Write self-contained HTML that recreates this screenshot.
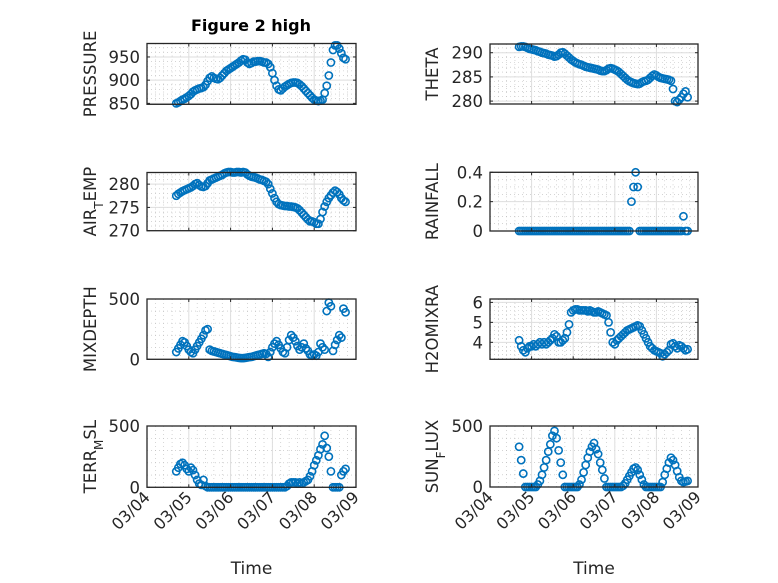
<!DOCTYPE html>
<html><head><meta charset="utf-8"><style>
html,body{margin:0;padding:0;background:#fff;}
svg{display:block;font-family:"DejaVu Sans","Liberation Sans",sans-serif;}
</style></head><body>
<svg id="fig" width="778" height="583" viewBox="0 0 778 583"></svg>
<script>
const times = Array.from({length:82},(_,i)=>+(0.7+0.05*i).toFixed(2));
const dayLabels = ["03/04","03/05","03/06","03/07","03/08","03/09"];
const pressureVals = [850,852,855,858,860,863,866,870,875,878,880,882,883,885,890,898,905,908,905,903,902,905,910,915,920,923,926,929,932,935,938,942,945,944,938,935,937,940,940,941,941,940,938,938,935,928,915,900,888,880,878,882,886,889,892,894,895,895,894,891,887,882,877,872,867,862,858,856,855,856,858,872,888,910,938,965,975,975,968,958,948,945];
const thetaVals = [291.2,291.3,291.3,291.2,291.0,290.8,290.7,290.6,290.5,290.3,290.2,290.0,289.9,289.8,289.6,289.5,289.4,289.2,289.3,289.6,290.0,290.1,289.8,289.4,289.0,288.6,288.3,288.0,287.8,287.6,287.5,287.3,287.1,287.0,286.9,286.8,286.7,286.6,286.5,286.3,286.2,286.2,286.4,286.7,286.8,286.7,286.5,286.3,286.0,285.6,285.2,284.8,284.4,284.1,283.9,283.7,283.6,283.5,283.6,283.9,284.1,284.2,284.4,284.8,285.2,285.5,285.3,285.0,284.8,284.7,284.6,284.5,284.4,284.2,282.5,280.0,279.8,280.3,280.8,281.5,282.0,280.8];
const airTempVals = [277.5,277.9,278.2,278.5,278.7,278.9,279.1,279.3,279.6,280.0,280.2,279.8,279.5,279.4,279.6,280.2,280.8,281.0,281.2,281.4,281.6,281.8,282.0,282.3,282.5,282.6,282.6,282.5,282.5,282.6,282.6,282.5,282.6,282.5,282.1,281.8,281.6,281.5,281.4,281.2,281.0,280.9,280.7,280.5,280.0,279.0,278.0,277.0,276.2,275.7,275.5,275.4,275.3,275.3,275.2,275.2,275.1,275.0,274.8,274.4,273.9,273.4,272.9,272.4,272.0,272.0,271.8,271.5,271.5,272.5,274.0,275.2,276.2,277.0,277.6,278.2,278.6,278.3,277.8,277.0,276.5,276.2];
const rainfallVals = [0,0,0,0,0,0,0,0,0,0,0,0,0,0,0,0,0,0,0,0,0,0,0,0,0,0,0,0,0,0,0,0,0,0,0,0,0,0,0,0,0,0,0,0,0,0,0,0,0,0,0,0,0,0,0.2,0.3,0.4,0.3,0,0,0,0,0,0,0,0,0,0,0,0,0,0,0,0,0,0,0,0,0,0.1,0,0];
const mixDepthVals = [60,90,120,150,140,110,80,60,50,80,110,140,170,200,240,250,80,70,65,60,55,50,45,40,35,30,25,20,18,15,12,10,10,12,15,18,20,25,30,35,40,45,50,45,20,60,100,130,150,120,90,60,50,100,160,200,180,150,110,80,100,130,90,70,40,30,40,30,60,130,100,80,400,470,440,70,120,160,200,180,420,390];
const h2oVals = [4.1,3.8,3.6,3.5,3.7,3.8,3.8,3.9,3.8,3.9,4.0,3.9,4.0,3.9,4.0,4.1,4.2,4.4,4.3,4.0,4.0,4.1,4.2,4.5,4.9,5.5,5.6,5.65,5.65,5.6,5.6,5.6,5.6,5.55,5.6,5.55,5.5,5.5,5.55,5.5,5.45,5.4,5.35,5.0,4.5,4.0,3.9,4.1,4.2,4.3,4.4,4.5,4.6,4.65,4.7,4.75,4.8,4.85,4.8,4.6,4.4,4.2,4.0,3.8,3.7,3.6,3.55,3.5,3.45,3.3,3.4,3.5,3.6,3.9,3.95,3.8,3.7,3.85,3.8,3.7,3.6,3.65];
const terrVals = [130,160,190,200,180,150,130,160,140,100,60,30,20,60,10,0,0,0,0,0,0,0,0,0,0,0,0,0,0,0,0,0,0,0,0,0,0,0,0,0,0,0,0,0,0,0,0,0,0,0,0,0,0,10,30,40,40,40,30,40,30,40,50,60,90,130,180,220,260,310,350,420,320,250,130,0,0,0,0,100,130,150];
const sunVals = [330,220,110,0,0,0,0,0,0,20,50,100,160,220,290,350,420,460,400,300,200,100,0,0,0,0,0,0,0,20,60,120,180,240,290,330,360,310,270,200,140,70,0,0,0,0,0,0,0,0,10,30,60,90,120,150,160,140,100,60,20,0,0,0,0,0,0,0,0,40,100,150,200,240,220,180,130,80,50,40,45,50];

const NS="http://www.w3.org/2000/svg";
const svg=document.getElementById('fig');
function mk(tag,attrs,parent){const e=document.createElementNS(NS,tag);for(const k in attrs)e.setAttribute(k,attrs[k]);(parent||svg).appendChild(e);return e;}

const panels=[
 {id:'pressure',lab:['PRESSURE'],vals:pressureVals,x0:147,x1:356,y0:43.5,y1:104.3,ymin:848,ymax:979,ticks:[850,900,950],minor:10,col:0},
 {id:'theta',lab:['THETA'],vals:thetaVals,x0:490,x1:698,y0:44,y1:104,ymin:279.4,ymax:291.8,ticks:[280,285,290],minor:1,col:1},
 {id:'air-temp',lab:['AIR','T','EMP'],vals:airTempVals,x0:147,x1:356,y0:172.5,y1:230.7,ymin:270,ymax:282.5,ticks:[270,275,280],minor:1,col:0},
 {id:'rainfall',lab:['RAINFALL'],vals:rainfallVals,x0:490,x1:698,y0:172.3,y1:231,ymin:0,ymax:0.4,ticks:[0,0.2,0.4],minor:0.05,col:1},
 {id:'mixdepth',lab:['MIXDEPTH'],vals:mixDepthVals,x0:147,x1:356,y0:299,y1:359.3,ymin:0,ymax:500,ticks:[0,500],minor:100,col:0},
 {id:'h2omixra',lab:['H2OMIXRA'],vals:h2oVals,x0:490,x1:698,y0:299,y1:359.3,ymin:3.15,ymax:6.17,ticks:[4,5,6],minor:0.2,col:1},
 {id:'terr-msl',lab:['TERR','M','SL'],vals:terrVals,x0:147,x1:356,y0:426,y1:487.3,ymin:0,ymax:500,ticks:[0,500],minor:100,col:0,bottom:true},
 {id:'sun-flux',lab:['SUN','F','LUX'],vals:sunVals,x0:490,x1:698,y0:426,y1:487,ymin:0,ymax:500,ticks:[0,500],minor:100,col:1,bottom:true}
];

panels.forEach(p=>{
 const g=mk('g',{});
 
 
 const xs=t=>p.x0+(p.x1-p.x0)*t/5;
 const ys=v=>p.y1-(p.y1-p.y0)*(v-p.ymin)/(p.ymax-p.ymin);
 const mstart=Math.ceil(p.ymin/p.minor-1e-6);
 for(let k=mstart;k*p.minor<=p.ymax+1e-9;k++){
  const v=k*p.minor; const y=ys(v);
  mk('line',{x1:p.x0,x2:p.x1,y1:y,y2:y,stroke:'#bbb','stroke-width':0.6,'stroke-dasharray':'1 3'},g);
 }
 for(let t=0.2;t<5;t+=0.2){const x=xs(t);mk('line',{x1:x,x2:x,y1:p.y0,y2:p.y1,stroke:'#bbb','stroke-width':0.6,'stroke-dasharray':'1 3'},g);}
 p.ticks.forEach(v=>{const y=ys(v);mk('line',{x1:p.x0,x2:p.x1,y1:y,y2:y,stroke:'#dedede','stroke-width':1},g);});
 for(let d=1;d<5;d++){const x=xs(d);mk('line',{x1:x,x2:x,y1:p.y0,y2:p.y1,stroke:'#dedede','stroke-width':1},g);}
 const sg=mk('g',{},g);
 
 
 p.vals.forEach((v,i)=>{
  const c=mk('circle',{cx:xs(times[i]).toFixed(2),cy:ys(v).toFixed(2),r:3.6,fill:'none',stroke:'#0072BD','stroke-width':1.6},sg);
  
  
 });
 mk('rect',{x:p.x0,y:p.y0,width:p.x1-p.x0,height:p.y1-p.y0,fill:'none',stroke:'#262626','stroke-width':1.3},g);
 p.ticks.forEach(v=>{const y=ys(v);
  mk('line',{x1:p.x0,x2:p.x0+3,y1:y,y2:y,stroke:'#262626'},g);
  mk('line',{x1:p.x1,x2:p.x1-3,y1:y,y2:y,stroke:'#262626'},g);
  const t=mk('text',{x:p.x0-7,y:y+6,'text-anchor':'end','font-size':'16.5',fill:'#262626'},g);
  t.textContent=String(v);
  
  
 });
 for(let d=0;d<=5;d++){const x=xs(d);
  mk('line',{x1:x,x2:x,y1:p.y1,y2:p.y1-3,stroke:'#262626'},g);
  mk('line',{x1:x,x2:x,y1:p.y0,y2:p.y0+3,stroke:'#262626'},g);
  if(p.bottom){
   const t=mk('text',{x:x+4,y:p.y1+11,'text-anchor':'end','font-size':'16',fill:'#262626',transform:`rotate(-45 ${x+4} ${p.y1+11})`},g);
   t.textContent=dayLabels[d];
   
   
  }
 }
 const lx=p.x0-(p.col?52:51), ly=(p.y0+p.y1)/2;
 const yl=mk('text',{x:lx,y:ly,'text-anchor':'middle','font-size':'16.5',fill:'#262626',transform:`rotate(-90 ${lx} ${ly})`},g);
 
 
 if(p.lab.length===1){yl.textContent=p.lab[0];}
 else{
  const a=mk('tspan',{},yl);a.textContent=p.lab[0];
  const b=mk('tspan',{'baseline-shift':'sub','font-size':'12'},yl);b.textContent=p.lab[1];
  const c=mk('tspan',{},yl);c.textContent=p.lab[2];
 }
 if(p.bottom){
  const tl=mk('text',{x:(p.x0+p.x1)/2,y:574,'text-anchor':'middle','font-size':'17',fill:'#262626'},svg);
  tl.textContent='Time';
  
  
 }
});
const title=mk('text',{x:251,y:31,'text-anchor':'middle','font-size':'16','font-weight':'bold',fill:'#000'});
title.textContent='Figure 2 high';


</script>
</body></html>
